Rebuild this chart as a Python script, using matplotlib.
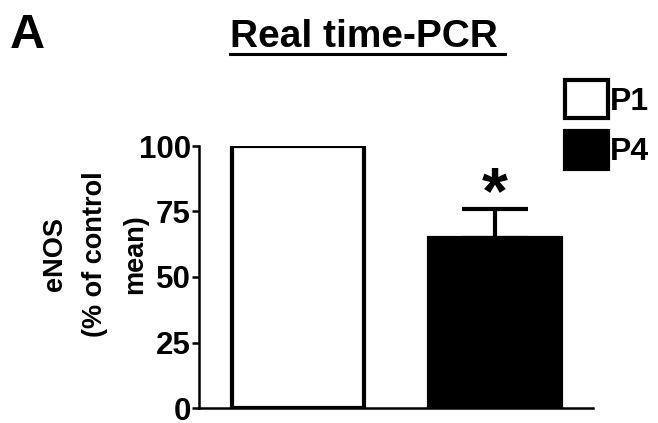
import matplotlib
matplotlib.use('Agg')
import matplotlib.pyplot as plt
from matplotlib.lines import Line2D

plt.rcParams['font.family']=['Liberation Sans','DejaVu Sans']
plt.rcParams['font.weight']='bold'

groups=['P1','P4']
values=[100,65]
errors=[0,11]
colors=['white','black']

fig=plt.figure(figsize=(6.58,4.23),dpi=100)
ax=fig.add_axes([199/658,1-408/423,394/658,262/423])

pos=[0,1]
bars=ax.bar(pos,values,width=0.67,color=colors,edgecolor='black',linewidth=3,label=groups,zorder=2)
# only upper error bar on P4
ax.errorbar(pos[1],values[1],yerr=[[0],[errors[1]]],fmt='none',ecolor='black',elinewidth=3,capsize=24,capthick=3,clip_on=False,zorder=3)
ax.text(pos[1],values[1]+errors[1]-1.5,'*',ha='center',va='baseline',fontsize=48,fontweight='bold')

ax.set_xlim(-0.503,1.497)
ax.set_ylim(0,100)
ax.set_yticks([0,25,50,75,100])
ax.set_xticks([])
for s in ['top','right']:
    ax.spines[s].set_visible(False)
for s in ['left','bottom']:
    ax.spines[s].set_linewidth(1.8)
ax.tick_params(axis='y',length=5,width=1.8,labelsize=22.5,pad=1)
for t in ax.get_yticklabels():
    t.set_fontweight('bold')

fig.text(95/658,1-254/423,'eNOS\n(% of control\nmean)',rotation=90,ha='center',va='center',
         multialignment='center',fontsize=19.5,fontweight='bold',linespacing=1.7)

fig.legend(handles=list(bars),labels=groups,loc='upper left',bbox_to_anchor=(565/658,1-80/423),
           frameon=False,handlelength=1.35,handleheight=1.45,handletextpad=0.05,
           labelspacing=0.4,borderpad=0,borderaxespad=0,prop={'weight':'bold','size':23})

fig.text(10/658,1-48/423,'A',fontsize=35,fontweight='bold',ha='left',va='baseline')
fig.text(230/658,1-47/423,'Real time-PCR',fontsize=28,fontweight='bold',ha='left',va='baseline')
fig.add_artist(Line2D([230/658,505/658],[1-54/423,1-54/423],color='black',linewidth=2.2,transform=fig.transFigure))

plt.savefig('out.png',dpi=100)
